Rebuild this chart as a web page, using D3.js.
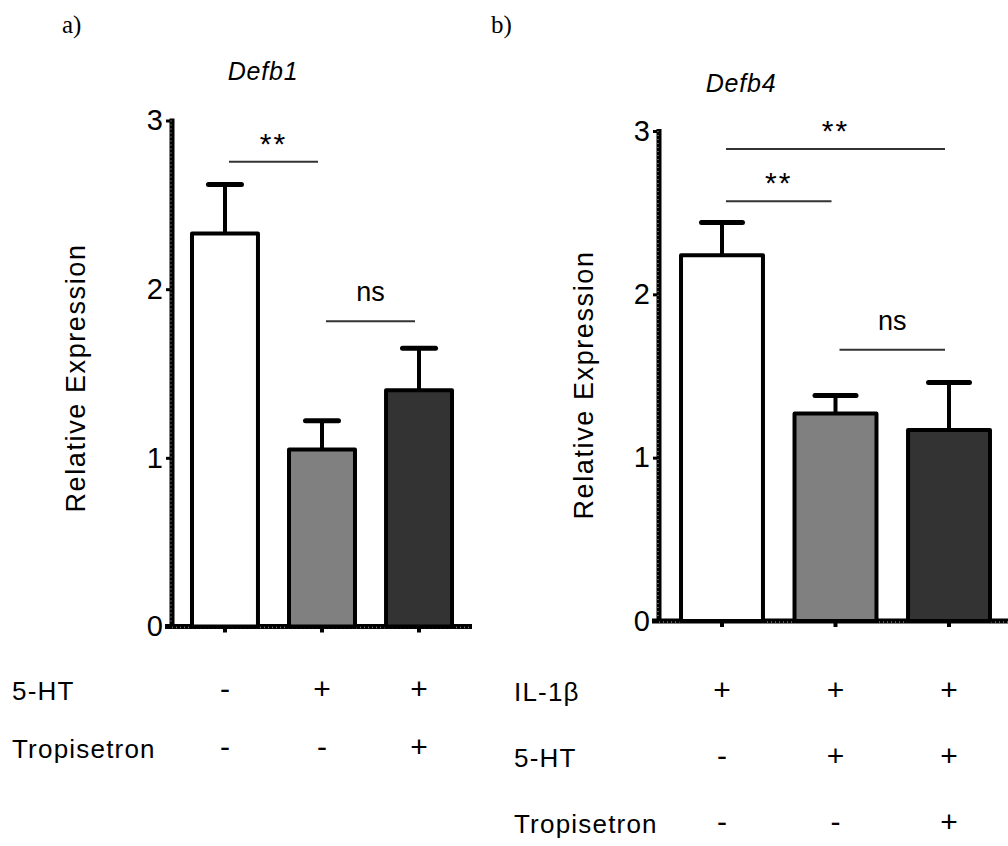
<!DOCTYPE html>
<html>
<head>
<meta charset="utf-8">
<script src="https://cdn.jsdelivr.net/npm/d3@7"></script>
<style>
  body { margin: 0; background: #fff; }
  svg { display: block; font-family: "Liberation Sans", Arial, sans-serif; }
</style>
</head>
<body>
<svg id="chart" width="1008" height="846"></svg>
<script>
// groups (bars) shared by both panels
const groups = ["ctrl", "5ht", "5ht_trop"];
const fills = ["#ffffff", "#808080", "#333333"];

// panel a - Defb1
const defb1Mean = [2.33, 1.05, 1.40];
const defb1Err = [0.29, 0.17, 0.25];
const rowsA = [
  { label: "5-HT", signs: ["-", "+", "+"] },
  { label: "Tropisetron", signs: ["-", "-", "+"] }
];
const sigA = [
  { from: 0, to: 1, level: 2.755, text: "**" },
  { from: 1, to: 2, level: 1.81, text: "ns" }
];

// panel b - Defb4
const defb4Mean = [2.24, 1.27, 1.17];
const defb4Err = [0.20, 0.11, 0.29];
const rowsB = [
  { label: "IL-1\u03b2", signs: ["+", "+", "+"] },
  { label: "5-HT", signs: ["-", "+", "+"] },
  { label: "Tropisetron", signs: ["-", "-", "+"] }
];
const sigB = [
  { from: 0, to: 2, level: 2.89, text: "**" },
  { from: 0, to: 1, level: 2.57, text: "**" },
  { from: 1, to: 2, level: 1.66, text: "ns" }
];

const yTicks = [0, 1, 2, 3];

const svg = d3.select("#chart");

function panel(opt) {
  const { mean, err, rows, sig, title, letter } = opt;

  const y = d3.scaleLinear().domain([0, 3]).range([opt.y0, opt.y3]);
  const x = d3.scaleBand()
    .domain(groups)
    .range([opt.axisX, opt.xEnd])
    .paddingInner(opt.padIn)
    .paddingOuter(opt.padOut);

  const g = svg.append("g");

  // panel letter
  g.append("text")
    .attr("x", opt.letterX).attr("y", 33)
    .attr("font-family", "'Liberation Serif', 'Times New Roman', serif")
    .attr("font-size", 25)
    .text(letter);

  // title (italic gene name)
  g.append("text")
    .attr("x", opt.titleX)
    .attr("y", opt.titleY)
    .attr("text-anchor", "middle")
    .attr("font-style", "italic")
    .attr("font-size", 25)
    .attr("letter-spacing", 0.8)
    .text(title);

  // y label
  g.append("text")
    .attr("transform", `translate(${opt.labelX},${opt.labelY}) rotate(-90)`)
    .attr("text-anchor", "middle")
    .attr("font-size", 27)
    .attr("letter-spacing", 1.6)
    .text("Relative Expression");

  // y axis
  const yAxis = d3.axisLeft(y).tickValues(yTicks).tickFormat(d3.format("d"))
    .tickSize(6).tickPadding(3);
  g.append("g")
    .attr("transform", `translate(${opt.axisX},0)`)
    .call(yAxis)
    .call(a => a.select(".domain").remove())
    .call(a => a.selectAll(".tick line").attr("stroke-width", 3))
    .call(a => a.selectAll(".tick text").attr("font-size", 29).attr("font-family", "'Liberation Sans', Arial, sans-serif").attr("fill", "#000"));
  g.append("line")
    .attr("x1", opt.axisX).attr("x2", opt.axisX)
    .attr("y1", y(3) - 2).attr("y2", y(0) + 2)
    .attr("stroke", "#000").attr("stroke-width", 5);
  // minor tick texture on axis
  g.append("line")
    .attr("x1", opt.axisX - 1).attr("x2", opt.axisX - 1)
    .attr("y1", y(3)).attr("y2", y(0))
    .attr("stroke", "#777").attr("stroke-width", 1.5)
    .attr("stroke-dasharray", "1 3");

  // x axis
  const xAxis = d3.axisBottom(x).tickSize(6).tickFormat("");
  g.append("g")
    .attr("transform", `translate(0,${y(0)})`)
    .call(xAxis)
    .call(a => a.select(".domain").remove())
    .call(a => a.selectAll(".tick line").attr("stroke-width", 4));
  g.append("line")
    .attr("x1", opt.axisX - 7).attr("x2", opt.xEnd)
    .attr("y1", y(0)).attr("y2", y(0))
    .attr("stroke", "#000").attr("stroke-width", 5);
  g.append("line")
    .attr("x1", opt.axisX).attr("x2", opt.xEnd)
    .attr("y1", y(0) + 1).attr("y2", y(0) + 1)
    .attr("stroke", "#777").attr("stroke-width", 1.5)
    .attr("stroke-dasharray", "1 3");

  const data = groups.map((k, i) => ({ k, m: mean[i], e: err[i], fill: fills[i] }));

  // error bars (upper only)
  g.selectAll(".err")
    .data(data)
    .join("line")
    .attr("x1", d => x(d.k) + x.bandwidth() / 2)
    .attr("x2", d => x(d.k) + x.bandwidth() / 2)
    .attr("y1", d => y(d.m))
    .attr("y2", d => y(d.m + d.e))
    .attr("stroke", "#000").attr("stroke-width", 4);
  g.selectAll(".cap")
    .data(data)
    .join("line")
    .attr("x1", d => x(d.k) + x.bandwidth() / 4)
    .attr("x2", d => x(d.k) + x.bandwidth() * 3 / 4)
    .attr("y1", d => y(d.m + d.e))
    .attr("y2", d => y(d.m + d.e))
    .attr("stroke", "#000").attr("stroke-width", 5).attr("stroke-linecap", "round");

  // bars
  g.selectAll(".bar")
    .data(data)
    .join("rect")
    .attr("x", d => x(d.k))
    .attr("y", d => y(d.m))
    .attr("width", x.bandwidth())
    .attr("height", d => y(0) - y(d.m))
    .attr("fill", d => d.fill)
    .attr("stroke", "#000").attr("stroke-width", 4)
    .attr("stroke-linejoin", "round");

  // significance lines
  const cx = i => x(groups[i]) + x.bandwidth() / 2;
  sig.forEach(s => {
    g.append("line")
      .attr("x1", cx(s.from) + 4).attr("x2", cx(s.to) - 4)
      .attr("y1", y(s.level)).attr("y2", y(s.level))
      .attr("stroke", "#333").attr("stroke-width", 2);
    g.append("text")
      .attr("x", (cx(s.from) + cx(s.to)) / 2)
      .attr("y", y(s.level) - (s.text === "ns" ? 20 : 8))
      .attr("text-anchor", "middle")
      .attr("font-size", s.text === "ns" ? 27 : 30)
      .attr("letter-spacing", s.text === "ns" ? 0 : 2)
      .text(s.text);
  });

  // treatment table
  rows.forEach((r, ri) => {
    const by = opt.rowY0 + ri * opt.rowGap;
    g.append("text")
      .attr("x", opt.rowLabelX).attr("y", by)
      .attr("font-size", 26)
      .attr("letter-spacing", 1.2)
      .text(r.label);
    g.selectAll(null)
      .data(r.signs)
      .join("text")
      .attr("x", (d, i) => cx(i))
      .attr("y", by - 1)
      .attr("text-anchor", "middle")
      .attr("font-size", 30)
      .text(d => d);
  });
}

panel({
  mean: defb1Mean, err: defb1Err, rows: rowsA, sig: sigA,
  title: "Defb1", letter: "a)", letterX: 62, titleX: 263, titleY: 80,
  labelX: 85, labelY: 378,
  y0: 626.5, y3: 120.5, axisX: 172, xEnd: 472, padIn: 0.32, padOut: 0.206,
  rowLabelX: 12, rowY0: 700, rowGap: 58
});

panel({
  mean: defb4Mean, err: defb4Err, rows: rowsB, sig: sigB,
  title: "Defb4", letter: "b)", letterX: 491, titleX: 741, titleY: 92,
  labelX: 593, labelY: 385,
  y0: 621, y3: 131, axisX: 659, xEnd: 1012, padIn: 0.278, padOut: 0.194,
  rowLabelX: 514, rowY0: 701, rowGap: 66
});
</script>
</body>
</html>
